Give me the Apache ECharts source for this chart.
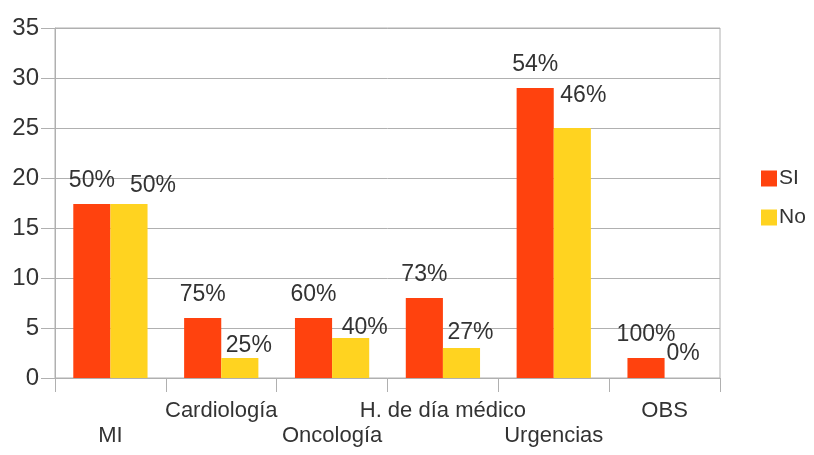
<!DOCTYPE html>
<html>
<head>
<meta charset="utf-8">
<script src="https://cdn.jsdelivr.net/npm/echarts@6/dist/echarts.min.js"></script>
<style>html,body{margin:0;padding:0;background:#fff}#c{width:814px;height:455px}</style>
</head>
<body>
<div id="c"></div>
<script>
const categories = ['MI', 'Cardiología', 'Oncología', 'H. de día médico', 'Urgencias', 'OBS'];
const siValues = [17.4, 6, 6, 8, 29, 2];
const noValues = [17.4, 2, 4, 3, 25, 0];
const siLabels = ['50%', '75%', '60%', '73%', '54%', '100%'];
const noLabels = ['50%', '25%', '40%', '27%', '46%', '0%'];
const yTicks = [0, 5, 10, 15, 20, 25, 30, 35];

// label nudges (style only), as placed in the original
const noLabelNudge = [[24, -3], [9, 3], [14, 5], [9, 0], [11, -17], [0, -9]];

const chart = echarts.init(document.getElementById('c'));
const gray = '#b0b0b0';
const txt = '#333333';
const font = 'Liberation Sans';
chart.setOption({
  animation: false,
  textStyle: { fontFamily: font },
  grid: { left: 55, right: 94, top: 28, bottom: 77, show: true, borderColor: gray, borderWidth: 1 },
  legend: {
    orient: 'vertical', left: 756, top: 163,
    itemWidth: 16, itemHeight: 16, itemGap: 18,
    icon: 'rect',
    textStyle: { fontSize: 21, color: txt, fontFamily: font, padding: [0, 0, 0, -3] },
    data: ['SI', 'No']
  },
  xAxis: {
    type: 'category', data: categories,
    axisLine: { lineStyle: { color: gray } },
    axisTick: { show: true, length: 14, alignWithLabel: false, lineStyle: { color: gray } },
    axisLabel: {
      interval: 0, color: txt, fontSize: 22, margin: 20, lineHeight: 25,
      formatter: function (v, i) { return i % 2 === 0 ? '\n' + v : v; }
    }
  },
  yAxis: {
    type: 'value', min: yTicks[0], max: yTicks[yTicks.length - 1], interval: 5,
    axisLine: { show: true, lineStyle: { color: gray } },
    axisTick: { show: true, length: 14, lineStyle: { color: gray } },
    splitLine: { lineStyle: { color: gray } },
    axisLabel: { color: txt, fontSize: 24, margin: 16 }
  },
  series: [
    {
      name: 'SI', type: 'bar', data: siValues, barGap: '0%', barCategoryGap: '33%',
      itemStyle: { color: '#ff420e' },
      label: {
        show: true, position: 'top', distance: 12, color: txt, fontSize: 23,
        formatter: function (p) { return siLabels[p.dataIndex]; }
      }
    },
    {
      name: 'No', type: 'bar',
      data: noValues.map(function (v, i) {
        return { value: v, label: { offset: noLabelNudge[i] } };
      }),
      itemStyle: { color: '#ffd320' },
      label: {
        show: true, position: 'top', distance: 4, color: txt, fontSize: 23,
        formatter: function (p) { return noLabels[p.dataIndex]; }
      }
    }
  ]
});
</script>
</body>
</html>
